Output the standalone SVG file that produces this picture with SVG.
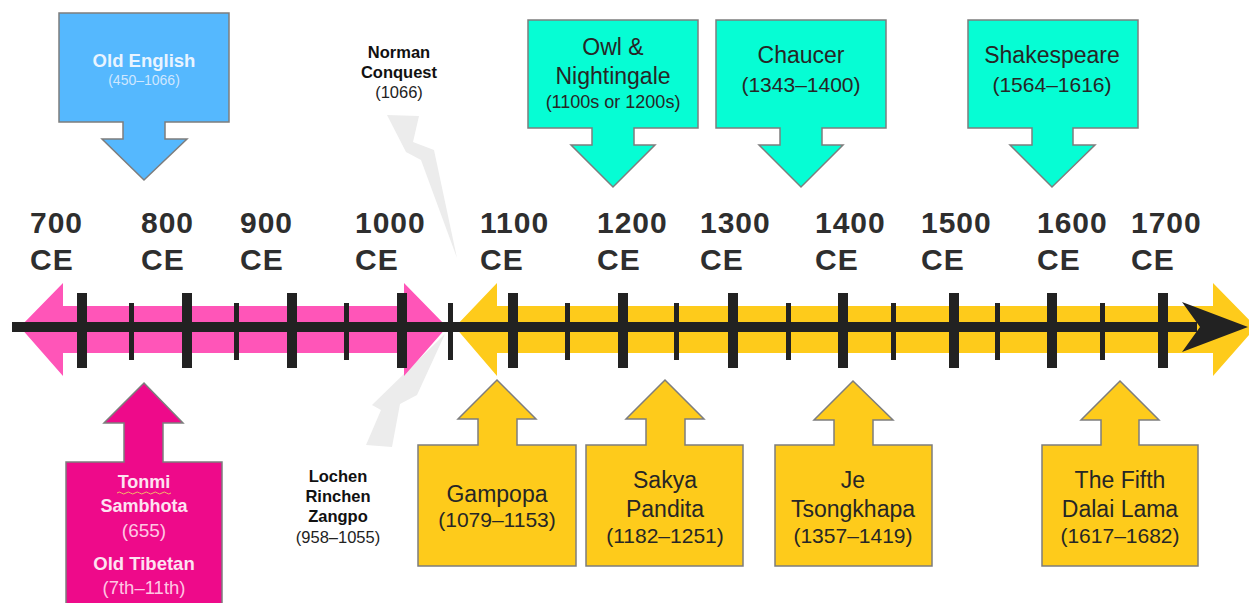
<svg xmlns="http://www.w3.org/2000/svg" width="1249" height="603" viewBox="0 0 1249 603">
  <style>
    .year { font-family: "Liberation Sans", Arial, sans-serif; font-weight: bold; font-size: 30px; fill: #2e2e2e; letter-spacing: 1px; }
    .call { stroke: #7d7d7d; stroke-width: 1.5; stroke-linejoin: miter; }
    .blue { fill: #55b8fe; }
    .cyan { fill: #06fdd4; }
    .gold { fill: #fecb1b; }
    .mag { fill: #ee0a8a; }
    .t { font-family: "Liberation Sans", Arial, sans-serif; text-anchor: middle; fill: #262626; }
    .ttl { font-size: 23px; }
    .dt { font-size: 21px; }
    .b { font-weight: bold; }
    .tick { fill: #222222; }
    .bolt { fill: #ececec; }
  </style>

  <!-- lightning bolts between the two eras -->
  <g id="bolts">
    <polygon class="bolt" points="387,115 419,116 413,142 434,150 457,258 421,160 406,152"/>
    <polygon class="bolt" points="445,334 417,395 400,404 392,447 366,445 381,410 372,405"/>
  </g>

  <!-- era bands -->
  <g id="era-pink">
    <polygon fill="#ff55b8" points="20,327 63,283 63,306 404,306 404,283 447,327 404,376 404,353 63,353 63,376"/>
  </g>
  <g id="era-gold">
    <polygon fill="#fecb1b" points="455,327 497,283 497,306 1213,306 1213,283 1256,327 1213,376 1213,353 497,353 497,376"/>
  </g>

  <!-- axis line, ticks and arrowhead -->
  <g id="axis">
    <rect class="tick" x="12" y="322" width="1185" height="10"/>
    <polygon class="tick" points="1182,302 1248,327 1182,352 1200,327"/>
    <g>
      <rect class="tick" x="77" y="293" width="10" height="75"/>
      <rect class="tick" x="182" y="293" width="10" height="75"/>
      <rect class="tick" x="287" y="293" width="10" height="75"/>
      <rect class="tick" x="397" y="293" width="10" height="75"/>
      <rect class="tick" x="508" y="293" width="10" height="75"/>
      <rect class="tick" x="618" y="293" width="10" height="75"/>
      <rect class="tick" x="728" y="293" width="10" height="75"/>
      <rect class="tick" x="838" y="293" width="10" height="75"/>
      <rect class="tick" x="949" y="293" width="10" height="75"/>
      <rect class="tick" x="1047" y="293" width="10" height="75"/>
      <rect class="tick" x="1158" y="293" width="10" height="75"/>
    </g>
    <g>
      <rect class="tick" x="129" y="303" width="5" height="57"/>
      <rect class="tick" x="234" y="303" width="5" height="57"/>
      <rect class="tick" x="344" y="303" width="5" height="57"/>
      <rect class="tick" x="448" y="303" width="5" height="57"/>
      <rect class="tick" x="565" y="303" width="5" height="57"/>
      <rect class="tick" x="674" y="303" width="5" height="57"/>
      <rect class="tick" x="786" y="303" width="5" height="57"/>
      <rect class="tick" x="891" y="303" width="5" height="57"/>
      <rect class="tick" x="995" y="303" width="5" height="57"/>
      <rect class="tick" x="1100" y="303" width="5" height="57"/>
    </g>
  </g>

  <!-- century labels -->
  <g id="years">
    <text class="year" x="30" y="233">700</text><text class="year" x="30" y="270">CE</text>
    <text class="year" x="141" y="233">800</text><text class="year" x="141" y="270">CE</text>
    <text class="year" x="240" y="233">900</text><text class="year" x="240" y="270">CE</text>
    <text class="year" x="355" y="233">1000</text><text class="year" x="355" y="270">CE</text>
    <text class="year" x="480" y="233">1100</text><text class="year" x="480" y="270">CE</text>
    <text class="year" x="597" y="233">1200</text><text class="year" x="597" y="270">CE</text>
    <text class="year" x="700" y="233">1300</text><text class="year" x="700" y="270">CE</text>
    <text class="year" x="815" y="233">1400</text><text class="year" x="815" y="270">CE</text>
    <text class="year" x="921" y="233">1500</text><text class="year" x="921" y="270">CE</text>
    <text class="year" x="1037" y="233">1600</text><text class="year" x="1037" y="270">CE</text>
    <text class="year" x="1131" y="233">1700</text><text class="year" x="1131" y="270">CE</text>
  </g>

  <!-- English literature callouts (above) -->
  <g id="old-english">
    <path class="call blue" d="M59,13 H229 V122 H165 V139 H187 L144,180 L102,139 H123 V122 H59 Z"/>
    <text class="t b" x="144" y="67" font-size="18.5" fill="#e9f4ff" style="fill:#e9f4ff">Old English</text>
    <text class="t" x="144" y="85" font-size="14" style="fill:#cfe7ff">(450–1066)</text>
  </g>
  <g id="owl-nightingale">
    <path class="call cyan" d="M528,20 H698 V128 H634 V145 H655 L613,187 L571,145 H592 V128 H528 Z"/>
    <text class="t ttl" x="613" y="55">Owl &amp;</text>
    <text class="t ttl" x="613" y="84">Nightingale</text>
    <text class="t" x="613" y="108" font-size="18">(1100s or 1200s)</text>
  </g>
  <g id="chaucer">
    <path class="call cyan" d="M716,20 H886 V128 H822 V145 H843 L801,187 L759,145 H780 V128 H716 Z"/>
    <text class="t ttl" x="801" y="63">Chaucer</text>
    <text class="t dt" x="801" y="92">(1343–1400)</text>
  </g>
  <g id="shakespeare">
    <path class="call cyan" d="M968,20 H1138 V128 H1073 V145 H1095 L1052,187 L1010,145 H1032 V128 H968 Z"/>
    <text class="t ttl" x="1052" y="63">Shakespeare</text>
    <text class="t dt" x="1052" y="92">(1564–1616)</text>
  </g>
  <g id="norman-conquest">
    <text class="t b" x="399" y="58" font-size="16.5" style="fill:#111">Norman</text>
    <text class="t b" x="399" y="78" font-size="16.5" style="fill:#111">Conquest</text>
    <text class="t" x="399" y="98" font-size="16.5" style="fill:#222">(1066)</text>
  </g>

  <!-- Tibetan callouts (below) -->
  <g id="tonmi-sambhota">
    <path class="call mag" d="M144,383 L183,423 H163 V462 H222 V612 H66 V462 H124 V423 H104 Z"/>
    <text class="t b" x="144" y="488" font-size="18" style="fill:#fde3f1">Tonmi</text>
    <path d="M117,493 q2.25,-2 4.5,0 t4.5,0 t4.5,0 t4.5,0 t4.5,0 t4.5,0 t4.5,0 t4.5,0 t4.5,0 t4.5,0 t4.5,0 t4.5,0" fill="none" stroke="#f3b96a" stroke-width="1"/>
    <text class="t b" x="144" y="512" font-size="18" style="fill:#fde3f1">Sambhota</text>
    <text class="t" x="144" y="537" font-size="19" style="fill:#ffc6e3">(655)</text>
    <text class="t b" x="144" y="570" font-size="18.5" style="fill:#fde3f1">Old Tibetan</text>
    <text class="t" x="144" y="594" font-size="18.5" style="fill:#ffc6e3">(7th–11th)</text>
  </g>
  <g id="lochen-rinchen-zangpo">
    <text class="t b" x="338" y="482" font-size="16.5" style="fill:#111">Lochen</text>
    <text class="t b" x="338" y="502" font-size="16.5" style="fill:#111">Rinchen</text>
    <text class="t b" x="338" y="522" font-size="16.5" style="fill:#111">Zangpo</text>
    <text class="t" x="338" y="543" font-size="16.5" style="fill:#222">(958–1055)</text>
  </g>
  <g id="gampopa">
    <path class="call gold" d="M497,380 L536,419 H517 V445 H576 V566 H418 V445 H478 V419 H458 Z"/>
    <text class="t ttl" x="497" y="502">Gampopa</text>
    <text class="t dt" x="497" y="527">(1079–1153)</text>
  </g>
  <g id="sakya-pandita">
    <path class="call gold" d="M665,380 L704,419 H685 V445 H743 V566 H586 V445 H646 V419 H626 Z"/>
    <text class="t ttl" x="665" y="488">Sakya</text>
    <text class="t ttl" x="665" y="517">Pandita</text>
    <text class="t dt" x="665" y="543">(1182–1251)</text>
  </g>
  <g id="je-tsongkhapa">
    <path class="call gold" d="M853,381 L893,420 H873 V445 H932 V566 H775 V445 H834 V420 H814 Z"/>
    <text class="t ttl" x="853" y="488">Je</text>
    <text class="t ttl" x="853" y="517">Tsongkhapa</text>
    <text class="t dt" x="853" y="543">(1357–1419)</text>
  </g>
  <g id="fifth-dalai-lama">
    <path class="call gold" d="M1120,381 L1159,420 H1139 V445 H1198 V566 H1042 V445 H1101 V420 H1081 Z"/>
    <text class="t ttl" x="1120" y="488">The Fifth</text>
    <text class="t ttl" x="1120" y="517">Dalai Lama</text>
    <text class="t dt" x="1120" y="543">(1617–1682)</text>
  </g>
</svg>
